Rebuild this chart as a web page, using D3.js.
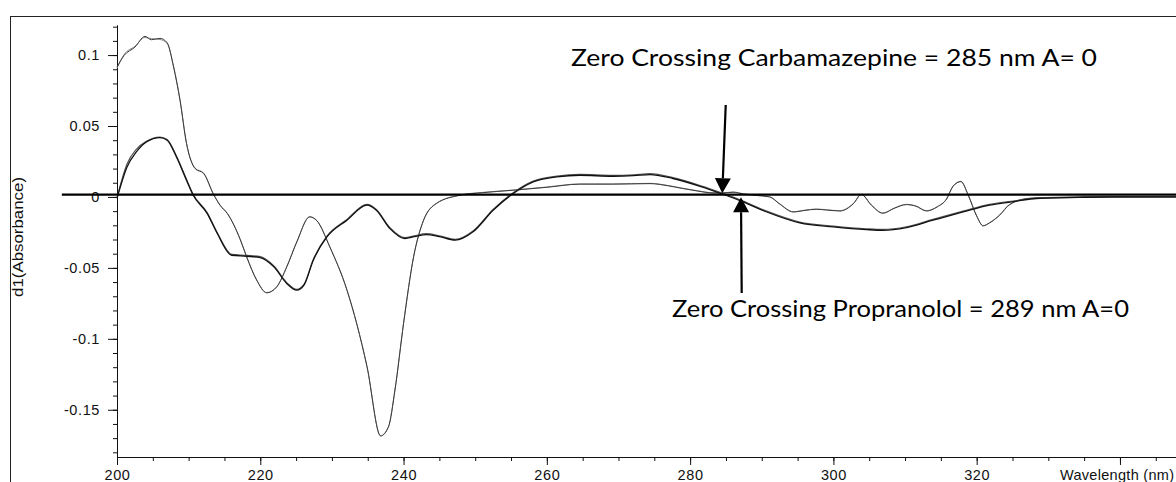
<!DOCTYPE html>
<html>
<head>
<meta charset="utf-8">
<script src="https://cdn.jsdelivr.net/npm/d3@7"></script>
<style>
  html, body { margin: 0; padding: 0; background: #fff; }
  svg { display: block; }
  .tick text { font-family: "Liberation Sans", Arial, sans-serif; font-size: 14.5px; letter-spacing: 0.6px; fill: #111; }
</style>
</head>
<body>
<svg id="chart" width="1176" height="482"></svg>
<script>
// First-derivative absorption spectra (d1 Absorbance vs wavelength, nm)

// Trace with the deep minimum near 237 nm (two overlaid recordings)
const wlThin = [
  200, 201, 202.5, 203.9, 204.8, 206, 207, 207.9, 208.8, 209.7,
  210.9, 212.1, 213.5, 214.4, 215.4, 217.2, 218.1, 219.5, 220.9, 222.3,
  223.7, 225.1, 226.9, 227.9, 229.7, 232.1, 234.9, 236.8, 237.9, 238.8,
  240, 241.4, 242.8, 244.6, 247.9, 251, 255.3, 260, 264.6, 269.2,
  274.4, 277, 279, 281, 283.2, 284.6, 286, 287.5, 289.3, 291.1,
  292.5, 294.4, 296, 297.6, 299, 300.9, 302.8, 303.9, 305.3, 306.9,
  308.5, 310.2, 311.5, 313, 314.5, 315.8, 316.7, 317.8, 318.8, 320,
  320.9, 321.8, 323.2, 324.6, 327.4, 330, 335, 340, 350
];
const thinRun1 = [
  0.0915, 0.0998, 0.1056, 0.1132, 0.1108, 0.1118, 0.1087, 0.0915, 0.068, 0.0377,
  0.020, 0.0165, 0.0015, -0.006, -0.0117, -0.030, -0.0423, -0.0587, -0.0676, -0.0634,
  -0.0493, -0.0317, -0.0141, -0.0168, -0.0352, -0.0657, -0.1197, -0.1685, -0.162, -0.1361,
  -0.0892, -0.0423, -0.0164, -0.0046, 0.0012, 0.003, 0.0047, 0.0068, 0.009, 0.009,
  0.0094, 0.0078, 0.0059, 0.0042, 0.0028, 0.0028, 0.0033, 0.002, 0.001, 0.0,
  -0.005, -0.0106, -0.0095, -0.0087, -0.0092, -0.0099, -0.0047, 0.0017, -0.0058, -0.0115,
  -0.008, -0.0054, -0.0065, -0.0099, -0.007, -0.0015, 0.0075, 0.0108, 0.0015, -0.0135,
  -0.0204, -0.0183, -0.0129, -0.0054, -0.0011, -0.0007, -0.0003, -0.0001, 0
];
const thinRun2 = [
  0.0908, 0.1004, 0.1062, 0.1124, 0.1116, 0.1110, 0.1082, 0.0921, 0.0684, 0.0381,
  0.0204, 0.0168, 0.0018, -0.0058, -0.0115, -0.0298, -0.0421, -0.0585, -0.0674, -0.0632,
  -0.0491, -0.0315, -0.0139, -0.0166, -0.035, -0.0655, -0.1195, -0.1682, -0.1618, -0.1359,
  -0.089, -0.0421, -0.0162, -0.0044, 0.0014, 0.0032, 0.0049, 0.007, 0.0092, 0.0092,
  0.0096, 0.008, 0.0061, 0.0044, 0.003, 0.003, 0.0035, 0.0022, 0.0012, 0.0002,
  -0.0048, -0.0104, -0.0093, -0.0085, -0.009, -0.0097, -0.0045, 0.0019, -0.0056, -0.0113,
  -0.0078, -0.0052, -0.0063, -0.0097, -0.0068, -0.0013, 0.0077, 0.011, 0.0017, -0.0133,
  -0.0202, -0.0181, -0.0127, -0.0052, -0.0009, -0.0005, -0.0001, 0.0001, 0.0001
];

// Smoother trace (two overlaid recordings)
const wlThick = [
  200, 201.4, 202.7, 204.1, 206, 207, 208.3, 209.7, 210.6, 212.6,
  214, 216, 218.1, 220, 221.9, 223.7, 225.1, 226.1, 227.4, 229.3,
  232.1, 234.9, 236.2, 238.1, 240.2, 241.5, 243.2, 245, 247.2, 249.7,
  252.5, 255.3, 258.1, 261.4, 264.6, 269.2, 272.1, 274.4, 277.6, 281.4,
  284.6, 287.4, 290.7, 295.3, 300, 304.6, 306.9, 310.2, 313.9, 318.1,
  321.8, 325.6, 328.3, 334.8, 340, 350
];
const thickRun1 = [
  -0.001, 0.0211, 0.0317, 0.0387, 0.0418, 0.040, 0.0282, 0.0118, 0.0015, -0.0117,
  -0.0258, -0.0411, -0.0418, -0.0427, -0.0493, -0.061, -0.0657, -0.0622, -0.0446, -0.0282,
  -0.0164, -0.0058, -0.0094, -0.0223, -0.0293, -0.028, -0.0265, -0.028, -0.0305, -0.0246,
  -0.0094, 0.0024, 0.0106, 0.0141, 0.0153, 0.0146, 0.015, 0.0158, 0.013, 0.0075,
  0.0019, -0.0035, -0.0106, -0.0183, -0.0211, -0.023, -0.0235, -0.0216, -0.0164, -0.0106,
  -0.0058, -0.003, -0.0011, -0.0002, 0, 0
];
const thickRun2 = [
  -0.0005, 0.0232, 0.0336, 0.0392, 0.0422, 0.0405, 0.0288, 0.0124, 0.0021, -0.0111,
  -0.0252, -0.0405, -0.0412, -0.0421, -0.0487, -0.0604, -0.0651, -0.0616, -0.044, -0.0276,
  -0.0158, -0.0052, -0.0088, -0.0217, -0.0287, -0.0274, -0.0259, -0.0274, -0.0299, -0.024,
  -0.0088, 0.003, 0.0112, 0.0147, 0.0159, 0.0152, 0.0156, 0.0164, 0.0136, 0.0081,
  0.0025, -0.0029, -0.01, -0.0177, -0.0205, -0.0224, -0.0229, -0.021, -0.0158, -0.01,
  -0.0052, -0.0025, -0.0007, 0.0001, 0.0002, 0.0002
];

// Axis ticks
const xMajorTicks = [200, 220, 240, 260, 280, 300, 320, 340];
const xTickLabels = ["200", "220", "240", "260", "280", "300", "320", ""];
const yMajorTicks = [-0.15, -0.1, -0.05, 0, 0.05, 0.1];
const yTickLabels = ["-0.15", "-0.1", "-0.05", "0", "0.05", "0.1"];

// Annotations (data coordinates)
const zeroRule = { from: 192.3, to: 350, value: 0.0017 };
const arrowDefs = [
  { x1: 284.97, y1: 0.0648, x2: 284.49, y2: 0.0026 },
  { x1: 287.2, y1: -0.0677, x2: 287.1, y2: -0.0002 }
];
const notes = [
  { text: "Zero Crossing Carbamazepine = 285 nm A= 0", x: 263.37, y: 0.0923, len: 526 },
  { text: "Zero Crossing Propranolol = 289 nm A=0", x: 277.47, y: -0.0846, len: 457 }
];

const svg = d3.select("#chart");

const x = d3.scaleLinear().domain([200, 350]).range([117, 117 + 150 * 7.164]);
const y = d3.scaleLinear().domain([-0.1833, 0.1212]).range([457, 25]);

// Outer frame
svg.append("rect")
  .attr("x", 10.5).attr("y", 16.5)
  .attr("width", 1300).attr("height", 600)
  .attr("fill", "none").attr("stroke", "#222").attr("stroke-width", 1);

// Minor ticks
const xMinor = d3.range(200, 350.1, 5);
const yMinor = d3.range(-18, 12.1, 1).map(d => d / 100);

svg.append("g").attr("transform", "translate(0,457)")
  .call(d3.axisBottom(x).tickValues(xMinor).tickSize(4).tickSizeOuter(0).tickFormat(""));
svg.append("g").attr("transform", "translate(117,0)")
  .call(d3.axisLeft(y).tickValues(yMinor).tickSize(4).tickSizeOuter(0).tickFormat(""));

// Major ticks with labels
svg.append("g").attr("transform", "translate(0,457)")
  .call(d3.axisBottom(x).tickValues(xMajorTicks).tickSize(8).tickSizeOuter(0).tickPadding(5)
    .tickFormat((d, i) => xTickLabels[i]));
svg.append("g").attr("transform", "translate(117,0)")
  .call(d3.axisLeft(y).tickValues(yMajorTicks).tickSize(9).tickSizeOuter(0).tickPadding(8)
    .tickFormat((d, i) => yTickLabels[i]));

svg.selectAll(".domain").attr("stroke", "#111");
svg.selectAll(".tick line").attr("stroke", "#111");

// Axis titles
svg.append("text")
  .attr("x", x(331.63)).attr("y", 457 + 8 + 5)
  .attr("dy", "0.71em")
  .style("font-family", '"Liberation Sans", Arial, sans-serif')
  .style("font-size", "14.5px")
  .style("letter-spacing", "0.3px")
  .attr("fill", "#111")
  .text("Wavelength (nm)");

svg.append("text")
  .attr("transform", "translate(23,237) rotate(-90)")
  .attr("text-anchor", "middle")
  .attr("textLength", 120)
  .attr("lengthAdjust", "spacingAndGlyphs")
  .style("font-family", '"Liberation Sans", Arial, sans-serif')
  .style("font-size", "14px")
  .attr("fill", "#111")
  .text("d1(Absorbance)");

// Spectra
const line = d3.line()
  .x(d => x(d[0]))
  .y(d => y(d[1]))
  .curve(d3.curveMonotoneX);

const spectra = [
  { wl: wlThin, v: thinRun2, color: "#8a8a8a", width: 1 },
  { wl: wlThin, v: thinRun1, color: "#3a3a3a", width: 1 },
  { wl: wlThick, v: thickRun2, color: "#555", width: 1.2 },
  { wl: wlThick, v: thickRun1, color: "#111", width: 1.3 }
];

svg.append("g").selectAll("path")
  .data(spectra)
  .join("path")
  .attr("d", s => line(s.wl.map((w, i) => [w, s.v[i]])))
  .attr("fill", "none")
  .attr("stroke", s => s.color)
  .attr("stroke-width", s => s.width)
  .attr("stroke-linejoin", "round");

// Zero reference rule
svg.append("line")
  .attr("x1", x(zeroRule.from)).attr("x2", x(zeroRule.to))
  .attr("y1", y(zeroRule.value)).attr("y2", y(zeroRule.value))
  .attr("stroke", "#000").attr("stroke-width", 2.2);

// Arrows
const arrowG = svg.append("g");
arrowDefs.forEach(a => {
  const sx = x(a.x1), sy = y(a.y1), tx = x(a.x2), ty = y(a.y2);
  const dx = tx - sx, dy = ty - sy, L = Math.hypot(dx, dy);
  const ux = dx / L, uy = dy / L;
  const headLen = 15, halfW = 8;
  const bx = tx - ux * headLen, by = ty - uy * headLen;
  arrowG.append("line")
    .attr("x1", sx).attr("y1", sy).attr("x2", bx).attr("y2", by)
    .attr("stroke", "#000").attr("stroke-width", 2.2);
  arrowG.append("polygon")
    .attr("points", [
      [tx, ty],
      [bx - uy * halfW, by + ux * halfW],
      [bx + uy * halfW, by - ux * halfW]
    ].map(p => p.join(",")).join(" "))
    .attr("fill", "#000");
});

// Annotation labels
svg.append("g").selectAll("text")
  .data(notes)
  .join("text")
  .attr("x", d => x(d.x))
  .attr("y", d => y(d.y))
  .attr("textLength", d => d.len)
  .attr("lengthAdjust", "spacingAndGlyphs")
  .style("font-family", "Lato, 'Open Sans', sans-serif")
  .style("font-size", "22.5px")
  .attr("fill", "#000")
  .text(d => d.text);
</script>
</body>
</html>
